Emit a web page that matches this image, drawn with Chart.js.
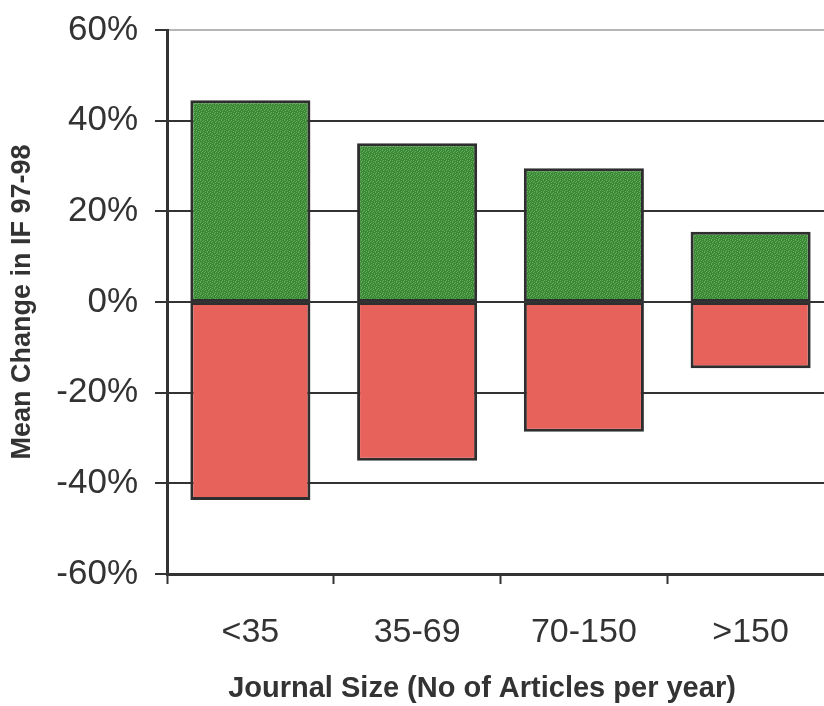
<!DOCTYPE html>
<html>
<head>
<meta charset="utf-8">
<script src="https://cdn.jsdelivr.net/npm/chart.js@4.4.1/dist/chart.umd.min.js"></script>
<style>
  html, body { margin: 0; padding: 0; background: #ffffff; overflow: hidden; }
  #wrap { width: 824px; height: 706px; overflow: hidden; }
  canvas { display: block; }
</style>
</head>
<body>
<div id="wrap"><canvas id="chart" width="840" height="706"></canvas></div>
<script>
// Journal size classes and mean change in impact factor (%)
const categories = ['<35', '35-69', '70-150', '>150'];
const meanIncrease = [44.5, 35.0, 29.5, 15.5];
const meanDecrease = [-43.7, -35.0, -28.6, -14.6];
const yMin = -60;
const yMax = 60;
const yStep = 20;

const ink = '#333333';
const edge = '#2e2e2e';
const fontFamily = '"Liberation Sans", Arial, Helvetica, sans-serif';
const xTitle = 'Journal Size (No of Articles per year)';

// Speckled green fill for the increase bars (fixed tile, repeated)
function speckleFill(base, light) {
  const rows = [
    '1000100',
    '0010001',
    '0100010',
    '0001000',
    '1000010',
    '0010100'
  ];
  const tile = document.createElement('canvas');
  tile.width = rows[0].length;
  tile.height = rows.length;
  const t = tile.getContext('2d');
  t.fillStyle = base;
  t.fillRect(0, 0, tile.width, tile.height);
  t.fillStyle = light;
  rows.forEach((row, y) => {
    [...row].forEach((c, x) => { if (c === '1') t.fillRect(x, y, 1, 1); });
  });
  return t.createPattern(tile, 'repeat');
}

// Axis title under the category labels
const xTitlePlugin = {
  id: 'xTitle',
  afterDraw(chart) {
    const { ctx, chartArea } = chart;
    ctx.save();
    ctx.font = 'bold 29px ' + fontFamily;
    ctx.fillStyle = ink;
    ctx.textAlign = 'center';
    ctx.textBaseline = 'middle';
    ctx.fillText(xTitle, chartArea.left + 315, 689);
    ctx.restore();
  }
};

new Chart(document.getElementById('chart'), {
  type: 'bar',
  data: {
    labels: categories,
    datasets: [
      {
        label: 'Increase',
        data: meanIncrease,
        backgroundColor: speckleFill('#3b8937', '#62ad58'),
        borderColor: edge,
        borderWidth: { top: 3, left: 3, right: 3, bottom: 2 },
        borderSkipped: false
      },
      {
        label: 'Decrease',
        data: meanDecrease,
        backgroundColor: '#e8625c',
        borderColor: edge,
        borderWidth: { top: 2, left: 3, right: 3, bottom: 3 },
        borderSkipped: false
      }
    ]
  },
  plugins: [xTitlePlugin],
  options: {
    responsive: false,
    animation: false,
    layout: { padding: { top: 30, right: 6, bottom: 0, left: 0 } },
    plugins: {
      legend: { display: false },
      tooltip: { enabled: false }
    },
    datasets: {
      bar: { categoryPercentage: 1.0, barPercentage: 0.72 }
    },
    scales: {
      x: {
        stacked: true,
        grid: {
          offset: true,
          drawOnChartArea: false,
          drawTicks: true,
          tickLength: 10,
          tickWidth: 2,
          tickColor: ink
        },
        border: { display: true, color: ink, width: 3 },
        ticks: {
          color: ink,
          padding: 28,
          font: { family: fontFamily, size: 34 }
        },
        afterFit: (scale) => { scale.height = 132; }
      },
      y: {
        stacked: true,
        min: yMin,
        max: yMax,
        ticks: {
          stepSize: yStep,
          color: ink,
          padding: 17,
          font: { family: fontFamily, size: 35, lineHeight: 0.6 },
          callback: (v) => v + '%'
        },
        grid: {
          color: (ctx) => (ctx.tick && ctx.tick.value === yMax) ? '#b5b5b5' : ink,
          lineWidth: 2,
          tickLength: 12,
          tickColor: ink,
          tickWidth: 2
        },
        border: { display: true, color: ink, width: 3 },
        title: {
          display: true,
          text: 'Mean Change in IF 97-98',
          color: ink,
          padding: { top: 6, bottom: 0 },
          font: { family: fontFamily, size: 27, weight: 'bold' }
        },
        afterFit: (scale) => { scale.width = 167; }
      }
    }
  }
});
</script>
</body>
</html>
